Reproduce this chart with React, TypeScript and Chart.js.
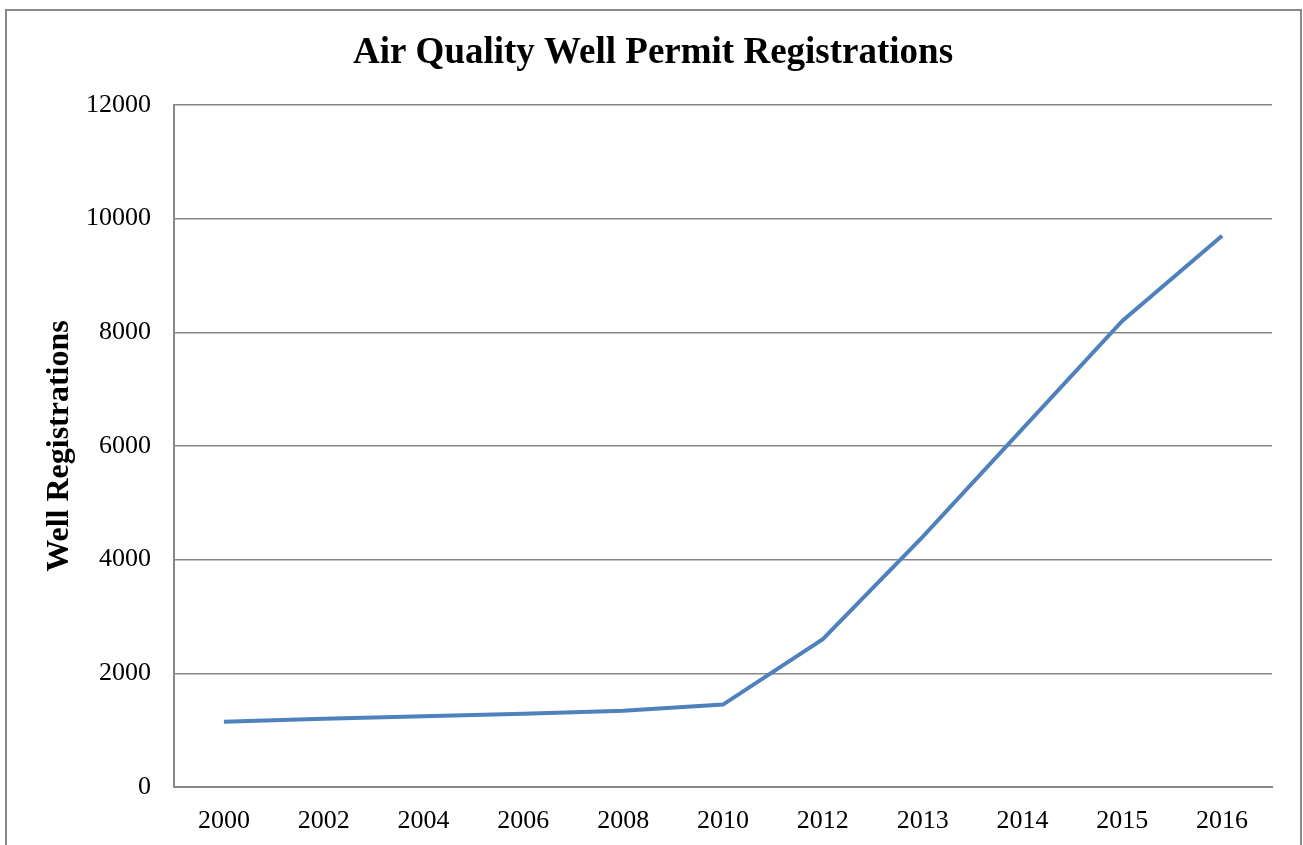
import React, { useEffect, useRef } from "react";
import { Chart, registerables } from "chart.js";

Chart.register(...registerables);

const categories = ["2000", "2002", "2004", "2006", "2008", "2010", "2012", "2013", "2014", "2015", "2016"];
const registrations = [1150, 1200, 1245, 1290, 1340, 1450, 2600, 4400, 6300, 8200, 9700];
const yTicks = [0, 2000, 4000, 6000, 8000, 10000, 12000];

const chartTitle = "Air Quality Well Permit Registrations";
const yAxisTitle = "Well Registrations";
const FONT = "'Liberation Serif', 'Times New Roman', serif";

const titlePlugin = {
  id: "pageTitle",
  afterDraw(chart: any) {
    const ctx = chart.ctx;
    ctx.save();
    ctx.fillStyle = "#000";
    ctx.font = `bold 37px ${FONT}`;
    ctx.textAlign = "center";
    ctx.textBaseline = "middle";
    ctx.fillText(chartTitle, 653, 53);
    ctx.restore();
  },
};

export default function App() {
  const canvasRef = useRef<HTMLCanvasElement | null>(null);

  useEffect(() => {
    const canvas = canvasRef.current;
    if (!canvas) return;
    const chart = new Chart(canvas, {
      type: "line",
      data: {
        labels: categories,
        datasets: [
          {
            label: yAxisTitle,
            data: registrations,
            borderColor: "#4F81BD",
            backgroundColor: "#4F81BD",
            borderWidth: 4,
            pointRadius: 0,
            tension: 0,
            fill: false,
          },
        ],
      },
      plugins: [titlePlugin],
      options: {
        responsive: false,
        animation: false,
        layout: { padding: { left: 0, right: 31, top: 105, bottom: 0 } },
        plugins: {
          legend: { display: false },
          tooltip: { enabled: false },
          title: { display: false },
        },
        scales: {
          x: {
            type: "category",
            offset: true,
            grid: { display: false, drawTicks: false },
            border: { display: true, color: "#888", width: 2 },
            ticks: {
              color: "#000",
              font: { family: FONT, size: 26 },
              padding: 19,
              maxRotation: 0,
              autoSkip: false,
            },
            afterFit: (scale: any) => {
              scale.height = 58;
            },
          },
          y: {
            min: 0,
            max: 12000,
            afterBuildTicks: (scale: any) => {
              scale.ticks = yTicks.map((v) => ({ value: v }));
            },
            grid: { color: "#888", lineWidth: 1.5, drawTicks: false },
            border: { display: true, color: "#888", width: 2 },
            ticks: {
              color: "#000",
              font: { family: FONT, size: 26 },
              padding: 23,
              callback: (value: any) => String(value),
            },
            title: {
              display: true,
              text: yAxisTitle,
              color: "#000",
              font: { family: FONT, size: 32, weight: "bold", lineHeight: 1.2 },
              padding: { top: 41, bottom: 0 },
            },
            afterFit: (scale: any) => {
              scale.width = 174;
            },
          },
        },
      },
    });
    return () => chart.destroy();
  }, []);

  return (
    <div
      style={{
        position: "fixed",
        left: 0,
        top: 0,
        width: 1303,
        height: 845,
        overflow: "hidden",
        background: "#fff",
      }}
    >
      <div
        style={{
          position: "absolute",
          left: 5,
          top: 9,
          width: 1297,
          height: 900,
          boxSizing: "border-box",
          border: "2px solid #888",
        }}
      />
      <canvas
        ref={canvasRef}
        width={1303}
        height={845}
        style={{ position: "absolute", left: 0, top: 0, width: 1303, height: 845 }}
      />
    </div>
  );
}
